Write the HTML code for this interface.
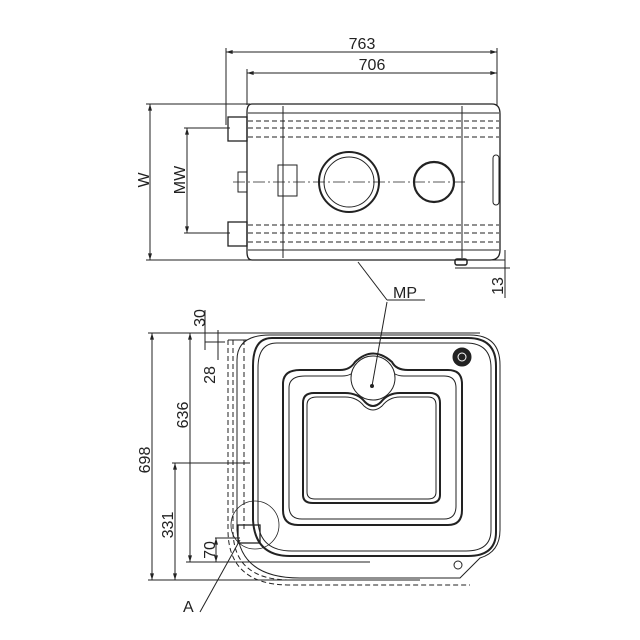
<!DOCTYPE html>
<html><head><meta charset="utf-8"><style>
html,body{margin:0;padding:0;background:#fff;width:640px;height:640px;overflow:hidden}
text{font-family:"Liberation Sans",sans-serif;font-size:16px;fill:#222}
</style></head><body>
<svg width="640" height="640" viewBox="0 0 640 640" xmlns="http://www.w3.org/2000/svg">
<defs>
<marker id="a" viewBox="0 0 10 6" refX="10" refY="3" markerWidth="7" markerHeight="4" orient="auto-start-reverse" markerUnits="userSpaceOnUse"><path d="M0 0L10 3L0 6Z" fill="#222"/></marker>
</defs>
<g stroke="#222" fill="none" stroke-width="1">
<!-- Top view dims -->
<line x1="226" y1="52" x2="497" y2="52" marker-start="url(#a)" marker-end="url(#a)"/>
<line x1="247" y1="73" x2="497" y2="73" marker-start="url(#a)" marker-end="url(#a)"/>
<line x1="226" y1="48" x2="226" y2="125"/>
<line x1="247" y1="69" x2="247" y2="105"/>
<line x1="497" y1="48" x2="497" y2="105"/>
<line x1="146" y1="104" x2="250" y2="104"/>
<line x1="146" y1="260" x2="505" y2="260"/>
<line x1="150" y1="104" x2="150" y2="260" marker-start="url(#a)" marker-end="url(#a)"/>
<line x1="184" y1="128" x2="230" y2="128"/>
<line x1="184" y1="233" x2="230" y2="233"/>
<line x1="187" y1="128" x2="187" y2="233" marker-start="url(#a)" marker-end="url(#a)"/>
<line x1="455" y1="268" x2="510" y2="268"/>
<line x1="505" y1="250" x2="505" y2="298"/>
<line x1="358" y1="262" x2="387" y2="300"/>
<line x1="387" y1="300" x2="425" y2="300"/>
<!-- top body -->
<path d="M252 104 H492 Q500 104 500 114 V250 Q500 260 490 260 H252 Q247 260 247 252 V112 Q247 104 252 104 Z" stroke-width="1.3"/>
<line x1="283" y1="106" x2="283" y2="258"/>
<line x1="462" y1="106" x2="462" y2="258"/>
<line x1="248" y1="113" x2="499" y2="113"/>
<line x1="248" y1="250" x2="499" y2="250"/>
<g stroke-dasharray="5,3">
<line x1="248" y1="121" x2="499" y2="121"/>
<line x1="248" y1="128" x2="499" y2="128"/>
<line x1="248" y1="137" x2="499" y2="137"/>
<line x1="248" y1="225" x2="499" y2="225"/>
<line x1="248" y1="233" x2="499" y2="233"/>
<line x1="248" y1="242" x2="499" y2="242"/>
</g>
<line x1="233" y1="182" x2="465" y2="182" stroke-dasharray="12,3,2,3" stroke-width="0.7"/>
<rect x="228" y="117" width="19" height="24" stroke-width="1.3"/>
<rect x="228" y="222" width="19" height="24" stroke-width="1.3"/>
<rect x="238" y="172" width="9" height="20"/>
<rect x="278" y="165" width="19" height="31"/>
<circle cx="349" cy="182" r="30" stroke-width="2"/>
<circle cx="349" cy="182" r="25"/>
<circle cx="434" cy="182" r="20" stroke-width="2.2"/>
<rect x="493" y="155" width="6" height="50" rx="3"/>
<rect x="455" y="259" width="12" height="6" rx="2" stroke-width="1.5"/>
<!-- Bottom view dims -->
<line x1="148" y1="333" x2="480" y2="333"/>
<line x1="148" y1="580" x2="420" y2="580"/>
<line x1="186" y1="562" x2="370" y2="562"/>
<line x1="152" y1="333" x2="152" y2="580" marker-start="url(#a)" marker-end="url(#a)"/>
<line x1="190" y1="333" x2="190" y2="562" marker-start="url(#a)" marker-end="url(#a)"/>
<line x1="172" y1="463" x2="250" y2="463"/>
<line x1="175" y1="463" x2="175" y2="580" marker-start="url(#a)" marker-end="url(#a)"/>
<line x1="205" y1="310" x2="205" y2="350"/>
<line x1="218" y1="330" x2="218" y2="360"/>
<line x1="205" y1="342" x2="225" y2="342"/>
<line x1="215" y1="538" x2="240" y2="538"/>
<line x1="216" y1="538" x2="216" y2="562" marker-start="url(#a)" marker-end="url(#a)"/>
<line x1="200" y1="612" x2="240" y2="540"/>
<!-- bottom body -->
<path d="M270 335 H470 Q500 335 500 365 V530 Q500 552 480 558 L460 578 H300 Q240 578 237 530 V360 Q237 335 270 335 Z" stroke-width="1"/>
<path d="M272 338 H468 Q496 338 496 366 V532 Q496 556 468 556 H290 Q255 556 253 520 V366 Q253 338 272 338 Z" stroke-width="2"/>
<path d="M277 343 H466 Q491 343 491 368 V530 Q491 551 466 551 H292 Q260 551 258 522 V368 Q258 343 277 343 Z"/>
<path d="M300 370 H340 Q350 370 355 362 Q373 345 392 362 Q396 370 408 370 H448 Q462 370 462 384 V510 Q462 525 448 525 H298 Q283 525 283 510 V384 Q283 370 300 370 Z" stroke-width="2"/>
<path d="M305 376 H342 Q352 376 358 368 Q373 353 388 368 Q394 376 404 376 H444 Q456 376 456 388 V506 Q456 519 444 519 H302 Q289 519 289 506 V388 Q289 376 305 376 Z"/>
<path d="M314 393 H345 Q358 393 365 402 Q373 410 381 402 Q388 393 400 393 H430 Q440 393 440 403 V495 Q440 503 430 503 H313 Q303 503 303 495 V403 Q303 393 314 393 Z" stroke-width="2"/>
<path d="M317 397 H345 Q357 397 364 406 Q373 414 382 406 Q389 397 400 397 H428 Q436 397 436 405 V492 Q436 499 428 499 H315 Q307 499 307 492 V405 Q307 397 317 397 Z"/>
<circle cx="373" cy="378" r="22" fill="#fff"/>
<circle cx="372" cy="386" r="1.5" fill="#222"/>
<line x1="372" y1="386" x2="387" y2="302"/>
<circle cx="462" cy="357" r="9" fill="#222"/>
<circle cx="462" cy="357" r="4" stroke="#fff"/>
<g stroke-dasharray="5,3">
<path d="M228 340 V530 Q228 585 290 585 H470"/>
<path d="M233 340 V530 Q233 580 290 580"/>
<line x1="244" y1="340" x2="244" y2="530"/>
</g>
<line x1="228" y1="340" x2="247" y2="340"/>
<circle cx="255" cy="525" r="24" stroke-width="0.8"/>
<rect x="238" y="525" width="22" height="18" stroke-width="1.3"/>
<circle cx="458" cy="565" r="4"/>
</g>
<text x="362" y="49" text-anchor="middle">763</text>
<text x="372" y="70" text-anchor="middle">706</text>
<text x="393" y="298">MP</text>
<text transform="translate(149,180) rotate(-90)" text-anchor="middle">W</text>
<text transform="translate(185,180) rotate(-90)" text-anchor="middle">MW</text>
<text transform="translate(503,286) rotate(-90)" text-anchor="middle">13</text>
<text transform="translate(205,318) rotate(-90)" text-anchor="middle">30</text>
<text transform="translate(215,375) rotate(-90)" text-anchor="middle">28</text>
<text transform="translate(188,415) rotate(-90)" text-anchor="middle">636</text>
<text transform="translate(150,460) rotate(-90)" text-anchor="middle">698</text>
<text transform="translate(173,525) rotate(-90)" text-anchor="middle">331</text>
<text transform="translate(215,550) rotate(-90)" text-anchor="middle">70</text>
<text x="183" y="612">A</text>
</svg>
</body></html>
